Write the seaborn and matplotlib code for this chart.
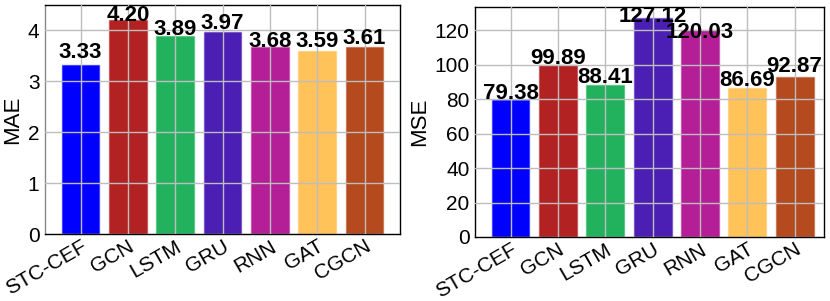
import matplotlib
matplotlib.use("Agg")
import matplotlib.pyplot as plt
import matplotlib.colors as mcolors
import seaborn as sns
import pandas as pd

# data
models = ["STC-CEF", "GCN", "LSTM", "GRU", "RNN", "GAT", "CGCN"]
mae_bars = [3.33, 4.20, 3.89, 3.97, 3.68, 3.59, 3.68]
mae_labels = ["3.33", "4.20", "3.89", "3.97", "3.68", "3.59", "3.61"]
mse_bars = [79.38, 99.89, 88.41, 127.12, 120.03, 86.69, 92.87]
mse_labels = ["79.38", "99.89", "88.41", "127.12", "120.03", "86.69", "92.87"]

colors = ["#0000ff", "#b22222", "#22b25e", "#4b1eb4", "#b41e96", "#ffc35a", "#b44a1e"]

# label nudges in pixels above bar top (text baseline)
mae_nudge = [7, -1, 1, 3, 0, 4, 3]
mse_nudge = [1, 1, 2, -4, -8, 2, 5]

sns.set_style("white", {"text.color": "black", "axes.labelcolor": "black",
                        "xtick.color": "black", "ytick.color": "black"})
plt.rcParams["font.family"] = ["Liberation Sans", "DejaVu Sans"]

fig = plt.figure(figsize=(8.3, 3.01), dpi=100)
ax1 = fig.add_axes([45 / 830, 1 - 234 / 301, 355 / 830, 229 / 301])
ax2 = fig.add_axes([475 / 830, 1 - 237 / 301, 349 / 830, 230 / 301])


def draw(ax, bars, labels, nudge, ylabel, ylim, xlim, ticks, spine_left):
    df = pd.DataFrame({"model": models, "value": bars})
    sns.barplot(data=df, x="model", y="value", hue="model", palette=colors,
                legend=False, width=0.8, ax=ax, saturation=1, linewidth=1)
    for p, c in zip(ax.patches, colors):
        p.set_edgecolor(mcolors.to_rgba(c, 0.45))
    ax.set_xlim(*xlim)
    ax.set_ylim(*ylim)
    ax.set_yticks(ticks)
    ax.set_xlabel("")
    ax.set_ylabel(ylabel, fontsize=16, labelpad=3)
    ax.set_axisbelow(False)
    ax.grid(True, color="#bdbdbd", linewidth=1)
    ax.tick_params(axis="y", labelsize=15, length=3, color="#999999", pad=1)
    ax.tick_params(axis="x", labelsize=15, length=0, pad=2)
    plt.setp(ax.get_xticklabels(), rotation=30, ha="right", rotation_mode="anchor")
    for s in ax.spines.values():
        s.set_color("black")
        s.set_linewidth(1)
        s.set_visible(True)
    ax.spines["left"].set_color(spine_left)
    for i, (v, lab, n) in enumerate(zip(bars, labels, nudge)):
        ax.annotate(lab, (i, v), xytext=(0, n * 0.72), textcoords="offset points",
                    ha="center", va="baseline", fontsize=16, fontweight="bold",
                    annotation_clip=False)


draw(ax1, mae_bars, mae_labels, mae_nudge, "MAE", (0, 4.5), (-0.75, 6.75),
     [0, 1, 2, 3, 4], "#888888")
draw(ax2, mse_bars, mse_labels, mse_nudge, "MSE", (0, 133.5), (-0.75, 6.62),
     [0, 20, 40, 60, 80, 100, 120], "black")

fig.savefig("out.png", dpi=100)
